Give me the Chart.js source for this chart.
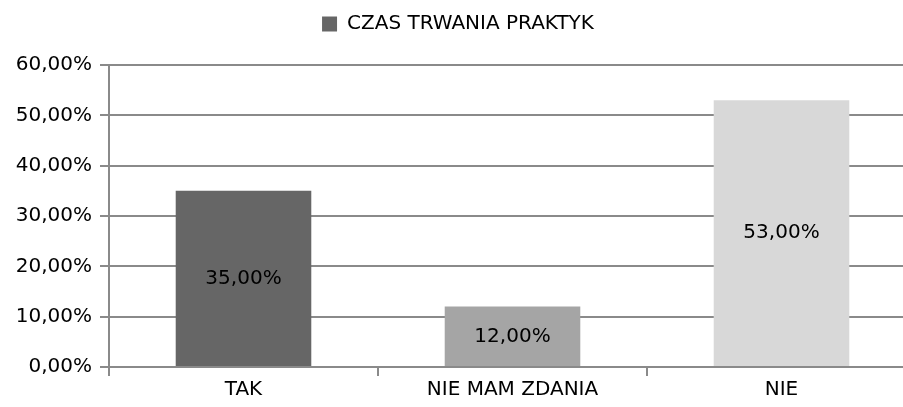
<!DOCTYPE html>
<html>
<head>
<meta charset="utf-8">
<script src="https://cdn.jsdelivr.net/npm/chart.js@4/dist/chart.umd.min.js"></script>
<style>
  html, body { margin: 0; padding: 0; background: #ffffff; overflow: hidden; }
  #wrap { width: 916px; height: 407px; }
</style>
</head>
<body>
<div id="wrap"><canvas id="c" width="916" height="407"></canvas></div>
<script>
const categories = ["TAK", "NIE MAM ZDANIA", "NIE"];
const seriesLabel = "CZAS TRWANIA PRAKTYK";
const values = [35, 12, 53];
const barColors = ["#666666", "#a5a5a5", "#d8d8d8"];
const yTicks = [0, 10, 20, 30, 40, 50, 60];

const FONT = "'DejaVu Sans', sans-serif";
const fmt = v => Number(v).toFixed(2).replace('.', ',') + '%';

const dataLabels = {
  id: 'dataLabels',
  afterDatasetsDraw(chart) {
    const ctx = chart.ctx;
    const meta = chart.getDatasetMeta(0);
    ctx.save();
    ctx.font = "20px " + FONT;
    ctx.fillStyle = "#000000";
    ctx.textAlign = "center";
    ctx.textBaseline = "middle";
    meta.data.forEach((bar, i) => {
      const p = bar.getProps(['x', 'y', 'base'], true);
      ctx.fillText(fmt(chart.data.datasets[0].data[i]), p.x, (p.y + p.base) / 2);
    });
    ctx.restore();
  }
};

const legendHeight = {
  id: 'legendHeight',
  beforeLayout(chart) {
    const lg = chart.legend;
    if (lg && !lg._fixedH) {
      const origFit = lg.fit;
      lg.fit = function () { origFit.call(this); this.height = 65; };
      lg._fixedH = true;
    }
  }
};

new Chart(document.getElementById('c'), {
  type: 'bar',
  data: {
    labels: categories,
    datasets: [{
      label: seriesLabel,
      data: values,
      backgroundColor: barColors,
      borderWidth: 0,
      categoryPercentage: 1,
      barPercentage: 0.504
    }]
  },
  options: {
    responsive: false,
    animation: false,
    devicePixelRatio: 1,
    layout: { padding: { top: 0, left: 0, right: 0, bottom: 0 } },
    plugins: {
      tooltip: { enabled: false },
      legend: {
        position: 'top',
        labels: {
          boxWidth: 15,
          boxHeight: 15,
          padding: 14,
          color: '#000000',
          font: { family: FONT, size: 20 },
          generateLabels: (chart) => [{
            text: seriesLabel,
            fillStyle: barColors[0],
            strokeStyle: barColors[0],
            lineWidth: 0,
            hidden: false,
            datasetIndex: 0
          }]
        }
      }
    },
    scales: {
      x: {
        grid: {
          display: true,
          drawOnChartArea: false,
          drawTicks: true,
          tickLength: 9,
          color: '#8a8a8a',
          lineWidth: 2,
          offset: true
        },
        border: { color: '#8a8a8a', width: 2 },
        ticks: { color: '#000000', font: { family: FONT, size: 20 }, padding: 2 },
        afterFit: (s) => { s.height = 40; }
      },
      y: {
        min: 0,
        max: 60,
        afterBuildTicks: (s) => { s.ticks = yTicks.map(v => ({ value: v })); },
        grid: { color: '#8a8a8a', lineWidth: 2, tickLength: 9 },
        border: { color: '#8a8a8a', width: 2 },
        ticks: {
          color: '#000000',
          font: { family: FONT, size: 20 },
          padding: 8,
          callback: (v) => fmt(v)
        },
        afterFit: (s) => { s.width = 109; }
      }
    }
  },
  plugins: [dataLabels, legendHeight]
});
</script>
</body>
</html>
